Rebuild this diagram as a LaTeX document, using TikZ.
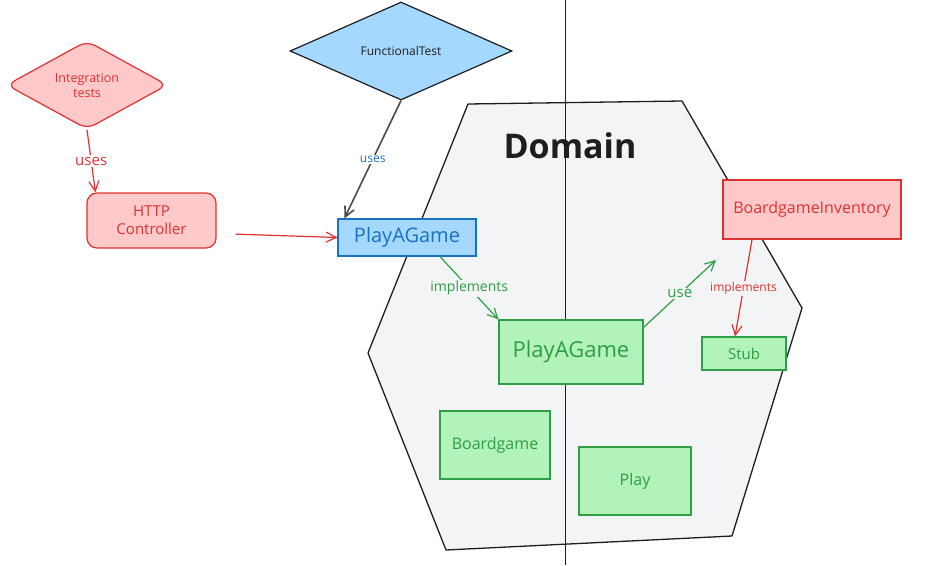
\documentclass[tikz,border=0pt]{standalone}
\usepackage{fontspec}
\setmainfont{Open Sans}
\usetikzlibrary{shapes.geometric, arrows.meta, positioning}

\definecolor{redfill}{HTML}{FFC9C9}
\definecolor{redline}{HTML}{E03131}
\definecolor{bluefill}{HTML}{A5D8FF}
\definecolor{blueline}{HTML}{1971C2}
\definecolor{greenfill}{HTML}{B2F2BB}
\definecolor{greenline}{HTML}{2F9E44}
\definecolor{inkline}{HTML}{1E1E1E}
\definecolor{domfill}{HTML}{F3F4F6}

\tikzset{
  box/.style={draw, line width=1.2pt, inner sep=0pt, align=center},
  redbox/.style={box, fill=redfill, draw=redline, text=redline},
  bluebox/.style={box, fill=bluefill, draw=blueline, text=blueline},
  greenbox/.style={box, fill=greenfill, draw=greenline, text=greenline},
  testshape/.style={diamond, inner sep=0pt, align=center, line width=1.2pt},
  link/.style={line width=1.2pt, -{Straight Barb[length=10pt,width=10pt]}},
  linklabel/.style={inner sep=1.5pt},
}

\begin{document}
\begin{tikzpicture}[x=1pt, y=-1pt]
\useasboundingbox (0,0) rectangle (936,565);

% domain hexagon
\draw[inkline, fill=domfill, line width=1.3pt, line join=round] (468,104) -- (682,101) -- (802,308) -- (732,536) -- (446,550) -- (368,353) -- cycle;
\draw[inkline, line width=1pt] (565,0) -- (565,565);
\node[font=\fontsize{34}{36}\selectfont\bfseries, text=inkline] (domain) at (570,146) {Domain};

% outside the hexagon
\node[testshape, fill=redfill, draw=redline, text=redline, rounded corners=9pt,
      minimum width=161pt, minimum height=75pt, font=\fontsize{12.5}{15}\selectfont] (integ) at (87,85) {Integration\\tests};
\node[redbox, rounded corners=10pt, minimum width=129pt, minimum height=55pt,
      font=\fontsize{15}{18}\selectfont] (ctrl) at (151.5,220.5) {HTTP\\Controller};
\node[testshape, fill=bluefill, draw=inkline, text=inkline,
      minimum width=222pt, minimum height=98pt, font=\fontsize{12}{14}\selectfont] (functest) at (401,51) {FunctionalTest};
\node[bluebox, minimum width=138pt, minimum height=37pt, font=\fontsize{20}{24}\selectfont] (apiPlay) at (407,237.5) {PlayAGame};
\node[redbox, minimum width=178pt, minimum height=59pt, font=\fontsize{16}{19}\selectfont] (inv) at (812,209.5) {BoardgameInventory};

% domain boxes
\foreach \name/\txt/\cx/\cy/\w/\h/\fs in {
    domPlay/PlayAGame/571/352/144/64/22,
    stub/Stub/744/353.5/84/33/15,
    boardgame/Boardgame/495/445/110/68/16,
    play/Play/635/481/112/68/16
} {
    \node[greenbox, minimum width=\w pt, minimum height=\h pt, font=\fontsize{\fs}{\fs}\selectfont] (\name) at (\cx,\cy) {\txt};
}

\coordinate (useend) at (716,260);

\draw[link, redline] (integ.south) -- ([xshift=9pt]ctrl.north west)
    node[linklabel, pos=0.5, fill=white, text=redline, font=\fontsize{15}{18}\selectfont] {uses};
\draw[link, redline, shorten <=19pt] ([yshift=-13pt]ctrl.east) -- (apiPlay.west);
\draw[link, inkline!80, line width=1.6pt] (functest.south) -- ([xshift=7pt]apiPlay.north west)
    node[linklabel, pos=0.5, fill=white, text=blueline, font=\fontsize{12}{14}\selectfont] {uses};
\draw[link, greenline] ([xshift=33pt]apiPlay.south) -- (domPlay.north west)
    node[linklabel, pos=0.5, fill=domfill, text=greenline, font=\fontsize{14}{16}\selectfont] {implements};
\draw[link, greenline] ([yshift=-8pt]domPlay.north east) -- (useend)
    node[linklabel, pos=0.5, fill=domfill, text=greenline, font=\fontsize{15}{18}\selectfont] {use};
\draw[link, redline] ([xshift=-60pt]inv.south) -- ([xshift=-9pt]stub.north)
    node[linklabel, pos=0.5, fill=domfill, text=redline, font=\fontsize{12}{14}\selectfont] {implements};
\end{tikzpicture}
\end{document}
